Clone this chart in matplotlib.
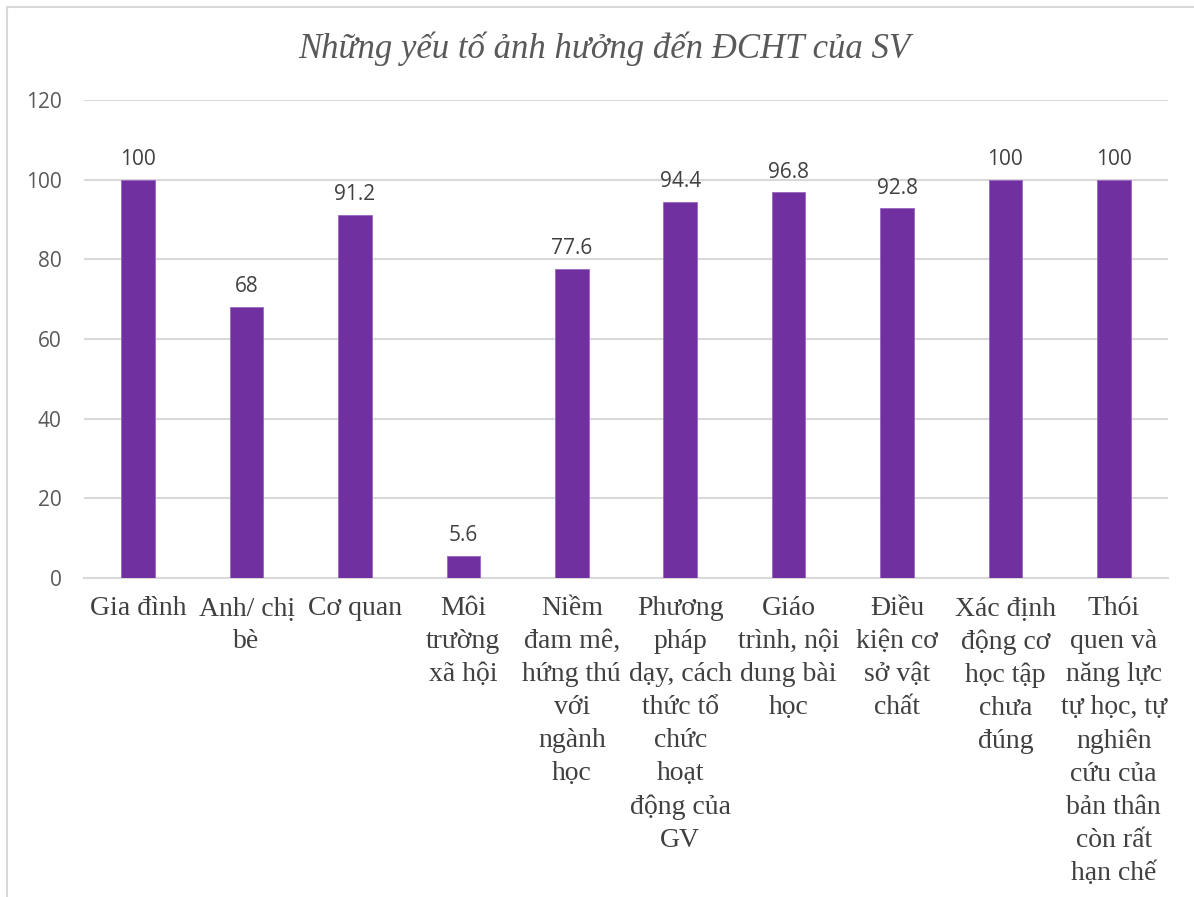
import numpy as np
import matplotlib.pyplot as plt
from matplotlib.lines import Line2D

# Du lieu doc tu bieu do
nhan = ['Gia đình', 'Anh/ chị\nbè', 'Cơ quan', 'Môi\ntrường\nxã hội',
        'Niềm\nđam mê,\nhứng thú\nvới\nngành\nhọc',
        'Phương\npháp\ndạy, cách\nthức tổ\nchức\nhoạt\nđộng của\nGV',
        'Giáo\ntrình, nội\ndung bài\nhọc', 'Điều\nkiện cơ\nsở vật\nchất',
        'Xác định\nđộng cơ\nhọc tập\nchưa\nđúng',
        'Thói\nquen và\nnăng lực\ntự học, tự\nnghiên\ncứu của\nbản thân\ncòn rất\nhạn chế']
gia_tri = [100, 68, 91.2, 5.6, 77.6, 94.4, 96.8, 92.8, 100, 100]
nhan_gia_tri = ['100', '68', '91.2', '5.6', '77.6', '94.4', '96.8', '92.8', '100', '100']
yticks = [0, 20, 40, 60, 80, 100, 120]

fig = plt.figure(figsize=(11.94, 8.97), dpi=100)
ax = fig.add_axes([84 / 1194, 319 / 897, (1168 - 84) / 1194, (578 - 100) / 897])

x = np.arange(len(gia_tri))
ax.bar(x, gia_tri, width=0.31, color='#7030A0', edgecolor='#9966c0', linewidth=0.6, zorder=3)

for xi, v, s in zip(x, gia_tri, nhan_gia_tri):
    ax.annotate(s, (xi, v), xytext=(0, 7), textcoords='offset points',
                ha='center', va='bottom', fontsize=15, color='#404040', family='Open Sans')

ax.set_xlim(-0.5, len(gia_tri) - 0.5)
ax.set_ylim(0, 120)
ax.set_yticks(yticks)
ax.set_yticklabels([str(t) for t in yticks], family='Open Sans', fontsize=15, color='#595959')
ax.set_xticks(x)
ax.set_xticklabels(nhan, family='Liberation Serif', fontsize=20, color='#404040',
                   linespacing=1.42, va='top', ha='center')
ax.tick_params(axis='y', length=0, pad=16)
ax.tick_params(axis='x', length=0, pad=13)
ax.grid(axis='y', color='#d9d9d9', linewidth=1.5, zorder=0)
for sp in ['top', 'right', 'left']:
    ax.spines[sp].set_visible(False)
ax.spines['bottom'].set_color('#d9d9d9')
ax.spines['bottom'].set_linewidth(1.5)

fig.text(604 / 1194, 1 - 49 / 897, 'Những yếu tố ảnh hưởng đến ĐCHT của SV', ha='center', va='center',
         family='Liberation Serif', style='italic', fontsize=25, color='#595959')

# khung bieu do
fig.add_artist(Line2D([7 / 1194, 1], [1 - 7 / 897, 1 - 7 / 897], color='#d9d9d9', linewidth=1.5,
                      transform=fig.transFigure))
fig.add_artist(Line2D([7 / 1194, 7 / 1194], [0, 1 - 7 / 897], color='#d9d9d9', linewidth=1.5,
                      transform=fig.transFigure))

fig.savefig('out.png', dpi=100)
